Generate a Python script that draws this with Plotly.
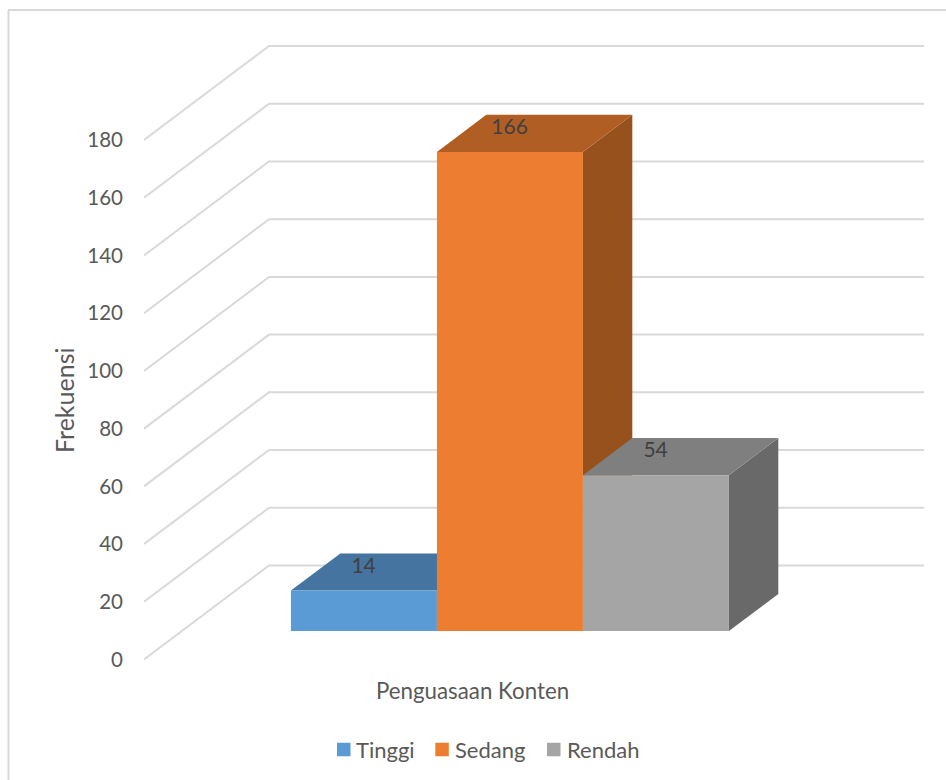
import plotly.graph_objects as go

# Chart content
series_names = ["Tinggi", "Sedang", "Rendah"]
frequencies = [14, 166, 54]
y_ticks = [0, 20, 40, 60, 80, 100, 120, 140, 160, 180]
x_title = "Penguasaan Konten"
y_title = "Frekuensi"

# Face colours per series: front, top, side
front_colors = ["#5B9BD5", "#ED7D31", "#A5A5A5"]
top_colors = ["#44749F", "#B15E25", "#7F7F7F"]
side_colors = ["#3D6A93", "#96511D", "#696969"]

GRID = "#D9D9D9"
TEXT = "#595959"
LABEL = "#404040"
FONT = "Lato"

# Canvas layout in pixels; the plot area spans the full height so that
# everything below the floor can be positioned inside it
WIDTH, HEIGHT = 946, 780
PLOT_L, PLOT_R, PLOT_T, PLOT_B = 144, 924, 0, 780
Y0_PX, PX_PER_VALUE = 659.5, 2.886
PX_PER_BAR = 146.0

# Legend key positions (left edge of swatch, left edge of text)
KEY_SWATCH_LEFT = [337, 435.3, 547]
KEY_TEXT_LEFT = [355, 453.5, 566]
KEY_Y, KEY_SIZE = 749.5, 13.5

# Axis ranges: one x unit is one bar width, y is in frequency units
x_max = (PLOT_R - PLOT_L) / PX_PER_BAR
y_min = (Y0_PX - PLOT_B) / PX_PER_VALUE
y_max = (Y0_PX - PLOT_T) / PX_PER_VALUE

# Oblique projection: depth 0 is the front of the floor, depth 1 the back wall
DEPTH_X = 125 / PX_PER_BAR
DEPTH_Y = 94 / PX_PER_VALUE
BAR_X0 = 0.747
BAR_DEPTH_NEAR = 0.303
BAR_DEPTH_FAR = 0.698


def project(x, value, depth):
    return x + depth * DEPTH_X, value + depth * DEPTH_Y


def face(points):
    xs, ys = zip(*[project(*p) for p in points])
    return list(xs) + [xs[0]], list(ys) + [ys[0]]


def paper_x(px):
    return (px - PLOT_L) / (PLOT_R - PLOT_L)


def paper_y(px):
    return (PLOT_B - px) / (PLOT_B - PLOT_T)


fig = go.Figure()

# Gridlines run along the side wall and then across the back wall
for tick in y_ticks:
    a = project(0, tick, 0)
    b = project(0, tick, 1)
    c = (x_max, b[1])
    fig.add_trace(go.Scatter(
        x=[a[0], b[0], c[0]], y=[a[1], b[1], c[1]], mode="lines",
        line=dict(color=GRID, width=2), hoverinfo="skip", showlegend=False,
    ))

# Bars are painted left to right so later faces cover earlier ones
n, f = BAR_DEPTH_NEAR, BAR_DEPTH_FAR
for i, (name, value) in enumerate(zip(series_names, frequencies)):
    x0, x1 = BAR_X0 + i, BAR_X0 + i + 1
    faces = [
        ("side", side_colors[i], [(x1, 0, n), (x1, 0, f), (x1, value, f), (x1, value, n)]),
        ("top", top_colors[i], [(x0, value, n), (x1, value, n), (x1, value, f), (x0, value, f)]),
        ("front", front_colors[i], [(x0, 0, n), (x1, 0, n), (x1, value, n), (x0, value, n)]),
    ]
    for part, color, pts in faces:
        xs, ys = face(pts)
        fig.add_trace(go.Scatter(
            x=xs, y=ys, mode="lines", fill="toself", fillcolor=color,
            name=f"{name} {part}", line=dict(width=0), hoverinfo="skip", showlegend=False,
        ))

# Value labels sit on the top face of each bar
label_x, label_y = [], []
for i, value in enumerate(frequencies):
    lx, ly = project(BAR_X0 + i + 0.5, value, (n + f) / 2)
    label_x.append(lx - 25 / PX_PER_BAR)
    label_y.append(ly + 4.5 / PX_PER_VALUE)
fig.add_trace(go.Scatter(
    x=label_x, y=label_y, mode="text", text=[str(v) for v in frequencies],
    textposition="middle center", textfont=dict(family=FONT, size=21, color=LABEL),
    hoverinfo="skip", showlegend=False,
))

# Legend row below the axis title
key_shapes = []
key_annotations = []
for name, color, sx, tx in zip(series_names, front_colors, KEY_SWATCH_LEFT, KEY_TEXT_LEFT):
    key_shapes.append(dict(
        type="rect", xref="paper", yref="paper",
        x0=paper_x(sx), x1=paper_x(sx + KEY_SIZE),
        y0=paper_y(KEY_Y - KEY_SIZE / 2), y1=paper_y(KEY_Y + KEY_SIZE / 2),
        fillcolor=color, line=dict(width=0),
    ))
    key_annotations.append(dict(
        text=name, xref="paper", yref="paper", x=paper_x(tx), y=paper_y(KEY_Y),
        xanchor="left", yanchor="middle", showarrow=False, xshift=-1,
        font=dict(family=FONT, size=22, color=TEXT),
    ))

fig.update_layout(
    width=WIDTH, height=HEIGHT, autosize=False,
    margin=dict(l=PLOT_L, r=WIDTH - PLOT_R, t=PLOT_T, b=HEIGHT - PLOT_B, pad=0),
    paper_bgcolor="white", plot_bgcolor="rgba(0,0,0,0)",
    font=dict(family=FONT, color=TEXT, size=20),
    xaxis=dict(range=[0, x_max], visible=False, fixedrange=True),
    yaxis=dict(
        range=[y_min, y_max], tickmode="array", tickvals=y_ticks,
        showgrid=False, zeroline=False, showline=False, ticks="",
        ticklabelstandoff=20, fixedrange=True,
        tickfont=dict(family=FONT, size=20.5, color=TEXT),
    ),
    showlegend=False,
    annotations=[
        dict(text=x_title, xref="paper", yref="paper", x=paper_x(472), y=paper_y(690),
             xanchor="center", yanchor="middle", showarrow=False,
             font=dict(family=FONT, size=22.3, color=TEXT)),
        dict(text=y_title, xref="paper", yref="paper", x=paper_x(64), y=paper_y(401),
             xanchor="center", yanchor="middle", showarrow=False, textangle=-90,
             font=dict(family=FONT, size=25, color=TEXT)),
    ] + key_annotations,
    shapes=[
        # Chart area outline: left and top edges reach the page limits
        dict(type="line", xref="paper", yref="paper", x0=paper_x(8.5), x1=paper_x(8.5),
             y0=paper_y(10), y1=paper_y(782), line=dict(color=GRID, width=2)),
        dict(type="line", xref="paper", yref="paper", x0=paper_x(8), x1=paper_x(948),
             y0=paper_y(10), y1=paper_y(10), line=dict(color=GRID, width=2)),
    ] + key_shapes,
)

fig.write_html("out.html")
